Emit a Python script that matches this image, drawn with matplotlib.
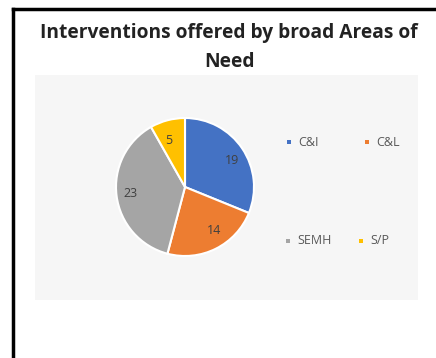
import matplotlib.pyplot as plt
from matplotlib.patches import Rectangle

areas = ['C&I', 'C&L', 'SEMH', 'S/P']
interventions = [19, 14, 23, 5]
colours = ['#4472C4', '#ED7D31', '#A5A5A5', '#FFC000']

plt.rcParams['font.family'] = ['Open Sans', 'DejaVu Sans']

fig = plt.figure(figsize=(4.36, 3.58), dpi=100)
W, H = 436, 358

# chart frame: heavy rule along the top and left edges
fig.add_artist(plt.Line2D([13 / W, 13 / W], [0, 1 - 9 / H], color='black', lw=2.5))
fig.add_artist(plt.Line2D([13 / W, 1], [1 - 9 / H, 1 - 9 / H], color='black', lw=2.5))

# pale plot area behind the pie and legend
fig.add_artist(Rectangle((35 / W, 1 - 300 / H), (418 - 35) / W, (300 - 75) / H,
                         transform=fig.transFigure, facecolor='#f6f6f6',
                         edgecolor='none', zorder=0))

fig.text(229 / W, 1 - 33 / H, 'Interventions offered by broad Areas of',
         ha='center', va='center', fontsize=13.8, fontweight='bold', color='#222222')
fig.text(229 / W, 1 - 62 / H, 'Need', ha='center', va='center',
         fontsize=13.8, fontweight='bold', color='#222222')

cx, cy, r = 185, 187, 69
ax = fig.add_axes([(cx - r) / W, 1 - (cy + r) / H, 2 * r / W, 2 * r / H])
wedges, texts = ax.pie(interventions, colors=colours, startangle=90,
                       counterclock=False, labels=[str(v) for v in interventions],
                       labeldistance=0.7,
                       wedgeprops={'edgecolor': 'white', 'linewidth': 1.5},
                       textprops={'fontsize': 9, 'color': '#404040'})
ax.set_xlim(-1.0, 1.0)
ax.set_ylim(-1.0, 1.0)
ax.set_aspect('equal')

# legend laid out in two rows, far apart as in the source chart
leg_pos = [(298, 142), (376, 142), (297, 241), (370, 241)]
for (lx, ly), name, col in zip(leg_pos, areas, colours):
    fig.add_artist(Rectangle(((lx - 11) / W, 1 - (ly + 2) / H), 4 / W, 4 / H,
                             transform=fig.transFigure, facecolor=col, edgecolor='none'))
    fig.text(lx / W, 1 - ly / H, name, ha='left', va='center', fontsize=9,
             color='#595959')

fig.savefig('out.png', dpi=100, facecolor='white')
